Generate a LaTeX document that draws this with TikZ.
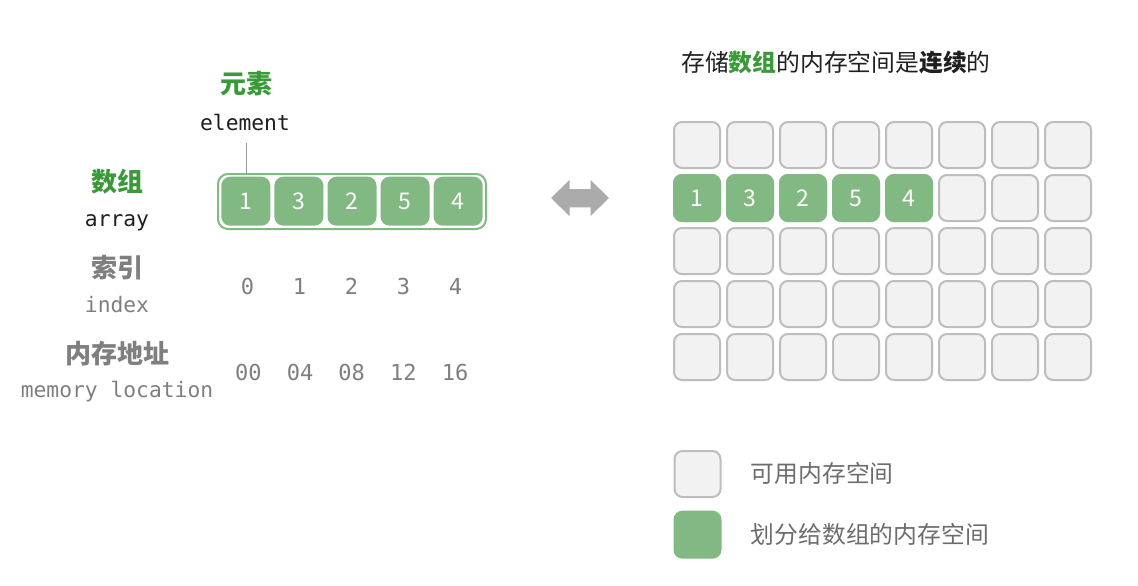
\documentclass[tikz,border=0pt]{standalone}
\usepackage{fontspec}
\setmainfont{Noto Sans CJK SC}
\newfontfamily\monof{DejaVu Sans Mono}
\definecolor{cellgreen}{HTML}{82B882}
\definecolor{txtgreen}{HTML}{3A9A3A}
\definecolor{cellgray}{HTML}{F2F2F2}
\definecolor{cellline}{HTML}{BDBDBD}
\definecolor{txtgray}{HTML}{7F7F7F}
\definecolor{arrowgray}{HTML}{ABABAB}
\definecolor{txtdark}{HTML}{1F1F1F}
\begin{document}
\begin{tikzpicture}[x=1pt,y=-1pt,
  gcell/.style={draw=cellline,line width=2pt,fill=cellgray,rounded corners=8pt,minimum width=46pt,minimum height=46pt,inner sep=0pt},
  acell/.style={draw=cellgreen,line width=2pt,fill=cellgreen,rounded corners=8pt,minimum width=46pt,minimum height=46pt,inner sep=0pt,text=white,font=\fontsize{23}{23}\selectfont},
  lcell/.style={acell,minimum width=47pt,minimum height=47pt},
  cjkbig/.style={font=\fontsize{26}{26}\selectfont\bfseries,inner sep=0pt},
  monolbl/.style={font=\monof\fontsize{21.3}{21.3}\selectfont,inner sep=0pt,anchor=base},
  numlbl/.style={font=\monof\fontsize{22}{22}\selectfont,text=txtgray,inner sep=0pt},
  legtxt/.style={font=\fontsize{23.8}{23.8}\selectfont,text=txtgray!85!black,inner sep=0pt,anchor=west}]
\useasboundingbox[fill=white] (0,0) rectangle (1138,586);

% title
\node[font=\fontsize{23.8}{23.8}\selectfont,text=txtdark,inner sep=0pt] (title) at (836,62.7)
  {存储{\bfseries\color{txtgreen}数组}的内存空间是{\bfseries 连续}的};

% left labels
\node[cjkbig,text=txtgreen] (yuansu) at (246,84) {元素};
\node[monolbl,text=txtdark] (element) at (245,130) {element};
\node[cjkbig,text=txtgreen] (shuzu) at (117,182) {数组};
\node[monolbl,text=txtdark] (array) at (117,226.5) {array};
\node[cjkbig,text=txtgray] (suoyin) at (117,268) {索引};
\node[monolbl,text=txtgray] (index) at (117,312.5) {index};
\node[cjkbig,text=txtgray] (neicun) at (117,354) {内存地址};
\node[monolbl,text=txtgray] (memloc) at (117,397.5) {memory location};

% array box
\node[draw=cellgreen,line width=2pt,rounded corners=10pt,minimum width=268pt,minimum height=55pt,inner sep=0pt] (arrbox) at (352,201.5) {};
\foreach \v [count=\i from 0] in {1,3,2,5,4} {
  \node[lcell] (a\i) at (245.8+53.1*\i,201.2) {\v};
  \node[numlbl] (idx\i) at (247.5+52*\i,286.7) {\i};
}
\foreach \v [count=\i from 0] in {00,04,08,12,16} {
  \node[numlbl] (addr\i) at (248.3+51.7*\i,372.3) {\v};
}
\coordinate (elline) at (246.6,143);
\draw[draw=txtgray!80,line width=1pt] (elline) -- (elline |- arrbox.north);

% double arrow
\fill[arrowgray] (551,198) -- (569.5,180) -- (569.5,189) -- (590.5,189) -- (590.5,180)
  -- (609,198) -- (590.5,216) -- (590.5,207.3) -- (569.5,207.3) -- (569.5,216) -- cycle;

% memory grid
\foreach \j in {0,...,4} {
  \foreach \i in {0,...,7} {
    \node[gcell] (g\i-\j) at (697+53*\i,145+53*\j) {};
  }
}
\foreach \v [count=\i from 0] in {1,3,2,5,4} {
  \node[acell] (m\i) at (697+53*\i,198) {\v};
}

% legend
\node[gcell] (leg1) at (697.5,474) {};
\node[acell] (leg2) at (697.5,534.7) {};
\node[legtxt] (leg1t) at (750.7,473.3) {可用内存空间};
\node[legtxt] (leg2t) at (750.7,534) {划分给数组的内存空间};
\end{tikzpicture}
\end{document}
